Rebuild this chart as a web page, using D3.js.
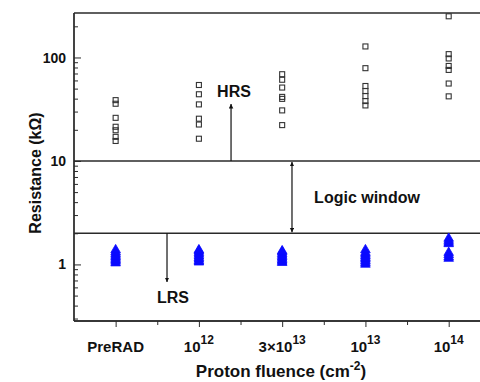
<!DOCTYPE html>
<html>
<head>
<meta charset="utf-8">
<script src="https://cdn.jsdelivr.net/npm/d3@7"></script>
<style>
  html, body { margin: 0; padding: 0; background: #fff; }
  svg { display: block; font-family: "Liberation Sans", Arial, sans-serif; font-weight: bold; }
</style>
</head>
<body>
<svg id="chart" width="480" height="382"></svg>
<script>
// Categories along the x axis (proton fluence)
const categories = ["PreRAD", "10^12", "3x10^13", "10^13", "10^14"];

// High resistance state samples (kΩ) per fluence
const hrsValues = [
  [38.7, 35.7, 26.1, 21.4, 19.8, 17.1, 15.6],
  [54.2, 44.1, 35.2, 25.6, 22.5, 16.4],
  [68.9, 60.9, 51.2, 41.6, 39.8, 30.8, 22.2],
  [127.8, 78.8, 53.0, 47.4, 42.4, 37.9, 34.4],
  [250, 107.7, 97.8, 82.8, 75.8, 56.0, 42.1]
];

// Low resistance state samples (kΩ) per fluence
const lrsValues = [
  [1.03, 1.07, 1.1, 1.14, 1.18, 1.22, 1.27, 1.32, 1.38],
  [1.05, 1.08, 1.12, 1.16, 1.2, 1.25, 1.3, 1.35, 1.38],
  [1.04, 1.07, 1.1, 1.14, 1.18, 1.22, 1.27, 1.32, 1.35],
  [1.0, 1.04, 1.08, 1.12, 1.16, 1.2, 1.25, 1.3, 1.38],
  [1.14, 1.18, 1.24, 1.3, 1.58, 1.63, 1.7, 1.78]
];

// Threshold lines bounding the logic window (kΩ)
const thresholds = [10, 2];

// Y tick labels
const yTickValues = [1, 10, 100];
const yTickLabels = ["1", "10", "100"];

(function draw() {
const svg = d3.select("#chart");
const pLeft = 74, pRight = 482, pTop = 13, pBottom = 321;

const x = d3.scaleLinear().domain([-0.5, 4.4]).range([pLeft, pRight]);
const y = d3.scaleLog().domain([0.284, 269]).range([pBottom, pTop]);

const ink = "#2a2a2a";

// frame: top border line
svg.append("line")
  .attr("x1", pLeft).attr("x2", 480).attr("y1", pTop).attr("y2", pTop)
  .attr("stroke", ink).attr("stroke-width", 1.3);

// Y axis (ticks pointing into the plot)
const yMinor = [];
[0.1, 1, 10, 100].forEach(d => { for (let k = 2; k <= 9; k++) { const v = d * k; if (v >= 0.284 && v <= 269) yMinor.push(v); } });

const yAxisG = svg.append("g").attr("transform", `translate(${pLeft},0)`);
yAxisG.call(d3.axisRight(y).tickValues(yMinor).tickSize(4).tickFormat(""));
yAxisG.append("g").call(d3.axisRight(y).tickValues(yTickValues).tickSize(7).tickFormat(""));
yAxisG.selectAll(".domain").attr("stroke", ink).attr("stroke-width", 1.3).attr("d", `M0,${pTop}V${pBottom}`);
yAxisG.selectAll(".tick line").attr("stroke", ink).attr("stroke-width", 1);

// Y tick labels
svg.append("g").selectAll("text").data(yTickValues).join("text")
  .attr("x", pLeft - 8).attr("y", d => y(d))
  .attr("dy", "0.36em")
  .attr("text-anchor", "end")
  .attr("font-size", 14)
  .attr("fill", "#111")
  .text((d, i) => yTickLabels[i]);

// X axis (ticks pointing out of the plot)
const xAxisG = svg.append("g").attr("transform", `translate(0,${pBottom})`);
xAxisG.call(d3.axisBottom(x).tickValues(d3.range(categories.length)).tickSize(6).tickFormat(""));
xAxisG.append("g").call(d3.axisBottom(x).tickValues([0.5, 1.5, 2.5, 3.5]).tickSize(4).tickFormat(""));
xAxisG.selectAll(".domain").attr("stroke", ink).attr("stroke-width", 1.3).attr("d", `M${pLeft},0H480`);
xAxisG.selectAll(".tick line").attr("stroke", ink).attr("stroke-width", 1);

// X tick labels with superscripts
const xl = svg.append("g").attr("font-size", 15).attr("fill", "#111");
categories.forEach((c, i) => {
  const t = xl.append("text").attr("x", x(i)).attr("y", 352).attr("text-anchor", "middle");
  if (c.includes("^")) {
    const [base, exp] = c.split("^");
    t.append("tspan").text(base.replace("x", "\u00d7"));
    t.append("tspan").attr("dy", -8).attr("font-size", 12).text(exp);
  } else {
    t.text(c);
  }
});

// Axis titles
const xt = svg.append("text").attr("x", 281).attr("y", 377).attr("text-anchor", "middle")
  .attr("font-size", 17).attr("fill", "#111");
xt.append("tspan").text("Proton fluence (cm");
xt.append("tspan").attr("dy", -7).attr("font-size", 12).text("-2");
xt.append("tspan").attr("dy", 7).text(")");

svg.append("text")
  .attr("transform", `translate(41,${(pTop + pBottom) / 2 + 6}) rotate(-90)`)
  .attr("text-anchor", "middle").attr("font-size", 16).attr("fill", "#111")
  .text("Resistance (k\u03a9)");

// Threshold lines
svg.append("g").selectAll("line").data(thresholds).join("line")
  .attr("x1", pLeft).attr("x2", 480)
  .attr("y1", d => y(d)).attr("y2", d => y(d))
  .attr("stroke", ink).attr("stroke-width", 1.5);

// Arrow marker
const defs = svg.append("defs");
defs.append("marker").attr("id", "ah")
  .attr("viewBox", "0 0 10 10").attr("refX", 10).attr("refY", 5)
  .attr("markerWidth", 4.5).attr("markerHeight", 5).attr("markerUnits", "userSpaceOnUse")
  .attr("orient", "auto-start-reverse")
  .append("path").attr("d", "M0,0L10,5L0,10z").attr("fill", "#111");

function arrow(xv, y1, y2, both) {
  const l = svg.append("line")
    .attr("x1", x(xv)).attr("x2", x(xv)).attr("y1", y1).attr("y2", y2)
    .attr("stroke", "#111").attr("stroke-width", 1.2)
    .attr("marker-end", "url(#ah)");
  if (both) l.attr("marker-start", "url(#ah)");
}
// HRS arrow: from the 10 kΩ line upward
arrow(1.386, y(10), 104);
// LRS arrow: from the 2 kΩ line downward
arrow(0.617, y(2), 282);
// Logic window double arrow between the thresholds
arrow(2.118, y(10) + 1, y(2) - 1, true);

const ann = svg.append("g").attr("font-size", 16).attr("fill", "#111");
ann.append("text").attr("x", 234).attr("y", 97).attr("text-anchor", "middle").text("HRS");
ann.append("text").attr("x", 173).attr("y", 303).attr("text-anchor", "middle").text("LRS");
ann.append("text").attr("x", 367).attr("y", 203).attr("text-anchor", "middle").text("Logic window");

// HRS: open squares
const sq = 5;
hrsValues.forEach((vals, i) => {
  svg.append("g").selectAll("rect").data(vals).join("rect")
    .attr("x", x(i) - sq / 2).attr("y", d => y(d) - sq / 2)
    .attr("width", sq).attr("height", sq)
    .attr("fill", "none").attr("stroke", "#333").attr("stroke-width", 1.1);
});

// LRS: filled blue triangles
const tri = d3.symbol().type(d3.symbolTriangle).size(40);
lrsValues.forEach((vals, i) => {
  svg.append("g").selectAll("path").data(vals).join("path")
    .attr("transform", d => `translate(${x(i)},${y(d)})`)
    .attr("d", tri)
    .attr("fill", "#0a0aff")
    .attr("stroke", "#0a0aff").attr("stroke-width", 0.8).attr("stroke-linejoin", "round");
});
})();
</script>
</body>
</html>
